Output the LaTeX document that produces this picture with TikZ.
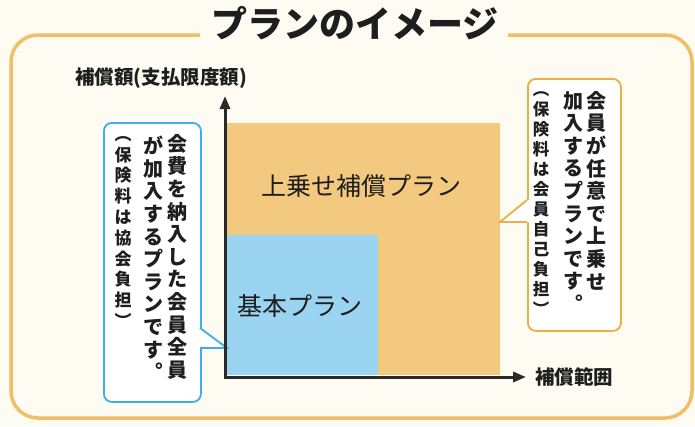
\documentclass[tikz,border=0pt]{standalone}
\usepackage{fontspec}
\newfontfamily\cjk{Noto Sans CJK JP}
\usetikzlibrary{arrows.meta}
\definecolor{bgcol}{HTML}{FDFBF2}
\definecolor{framecol}{HTML}{F0BE64}
\definecolor{orfill}{HTML}{F3C97F}
\definecolor{blfill}{HTML}{9BD4F0}
\definecolor{lbord}{HTML}{3CAFE6}
\definecolor{rbord}{HTML}{EBAF46}
\definecolor{axiscol}{HTML}{2A2A2A}
\definecolor{txtcol}{HTML}{1E1E1E}
\tikzset{
  vbig/.style={align=center, inner sep=0pt, anchor=north, text=txtcol, font=\cjk\bfseries\fontsize{20}{22.6}\selectfont},
  vsmall/.style={align=center, inner sep=0pt, anchor=north, text=txtcol, font=\cjk\bfseries\fontsize{17}{20.8}\selectfont},
  vsmallr/.style={align=center, inner sep=0pt, anchor=north, text=txtcol, font=\cjk\bfseries\fontsize{16.5}{20}\selectfont},
  callbox/.style={rounded corners=8pt, line width=1.8pt, fill=white, inner sep=0pt, anchor=north west},
  plantext/.style={font=\cjk\fontsize{25}{28}\selectfont, text=txtcol, inner sep=0pt},
  axlabel/.style={font=\cjk\bfseries\fontsize{19.5}{22}\selectfont, text=txtcol, inner sep=0pt},
}
\begin{document}
\begin{tikzpicture}[x=1pt,y=-1pt]
\useasboundingbox (0,0) rectangle (695,426);
\fill[bgcol] (0,0) rectangle (695,426);
% frame
\draw[framecol, line width=3.5pt, rounded corners=27pt]
  (200,35) -- (11,35) -- (11,418) -- (692,418) -- (692,35) -- (508,35);
\node[font=\cjk\bfseries\fontsize{36}{40}\selectfont, text=txtcol, inner sep=0pt] (title) at (355,23) {プランのイメージ};

% plan rectangles
\node[fill=orfill, minimum width=273pt, minimum height=252pt, inner sep=0pt, anchor=north west] (upper) at (227,123) {};
\node[fill=blfill, minimum width=151pt, minimum height=140pt, inner sep=0pt, anchor=north west] (basic) at (227,235) {};
\node[plantext] (upperlabel) at (361,186) {上乗せ補償プラン};
\node[plantext] (basiclabel) at (300,306) {基本プラン};

% left callout
\node[callbox, draw=lbord, minimum width=97pt, minimum height=279pt] (lcall) at (103,122) {};
\coordinate (la) at (200,328);
\coordinate (lb) at (200,348);
\coordinate (ltip) at (227,348);
\fill[white] (la) -- (ltip) -- (lb) -- ([xshift=-2.5pt]lb) -- ([xshift=-2.5pt]la) -- cycle;
\draw[lbord, line width=1.8pt, line join=miter] (la) -- (ltip) -- (lb);
\node[vbig] (lc1) at (177,134) {会\\費\\を\\納\\入\\し\\た\\会\\員\\全\\員};
\node[vbig] (lc2) at (153,136) {が\\加\\入\\す\\る\\プ\\ラ\\ン\\で\\す\\︒};
\node[vsmall] (lc3) at (123,136) {︵\\保\\険\\料\\は\\協\\会\\負\\担\\︶};

% right callout
\node[callbox, draw=rbord, minimum width=93pt, minimum height=252pt] (rcall) at (527,78) {};
\coordinate (ra) at (527,200);
\coordinate (rb) at (527,222);
\coordinate (rtip) at (500,222);
\fill[white] (ra) -- (rtip) -- (rb) -- ([xshift=2.5pt]rb) -- ([xshift=2.5pt]ra) -- cycle;
\draw[rbord, line width=1.8pt, line join=miter] (ra) -- (rtip) -- (rb);
\node[vbig] (rc1) at (596,91) {会\\員\\が\\任\\意\\で\\上\\乗\\せ};
\node[vbig] (rc2) at (573,91) {加\\入\\す\\る\\プ\\ラ\\ン\\で\\す\\︒};
\node[vsmallr] (rc3) at (541,91) {︵\\保\\険\\料\\は\\会\\員\\自\\己\\負\\担\\︶};

% axes
\coordinate (O) at (225,377);
\coordinate (ytop) at (225,96);
\coordinate (xend) at (526,377);
\draw[axiscol, line width=3pt, line join=miter, {Triangle[length=13pt,width=10pt]}-{Triangle[length=13pt,width=10pt]}] (ytop) -- (O) -- (xend);
\node[axlabel] (ylabel) at (161,78) {補償額(支払限度額)};
\node[axlabel] (xlabel) at (574,377) {補償範囲};
\end{tikzpicture}
\end{document}
